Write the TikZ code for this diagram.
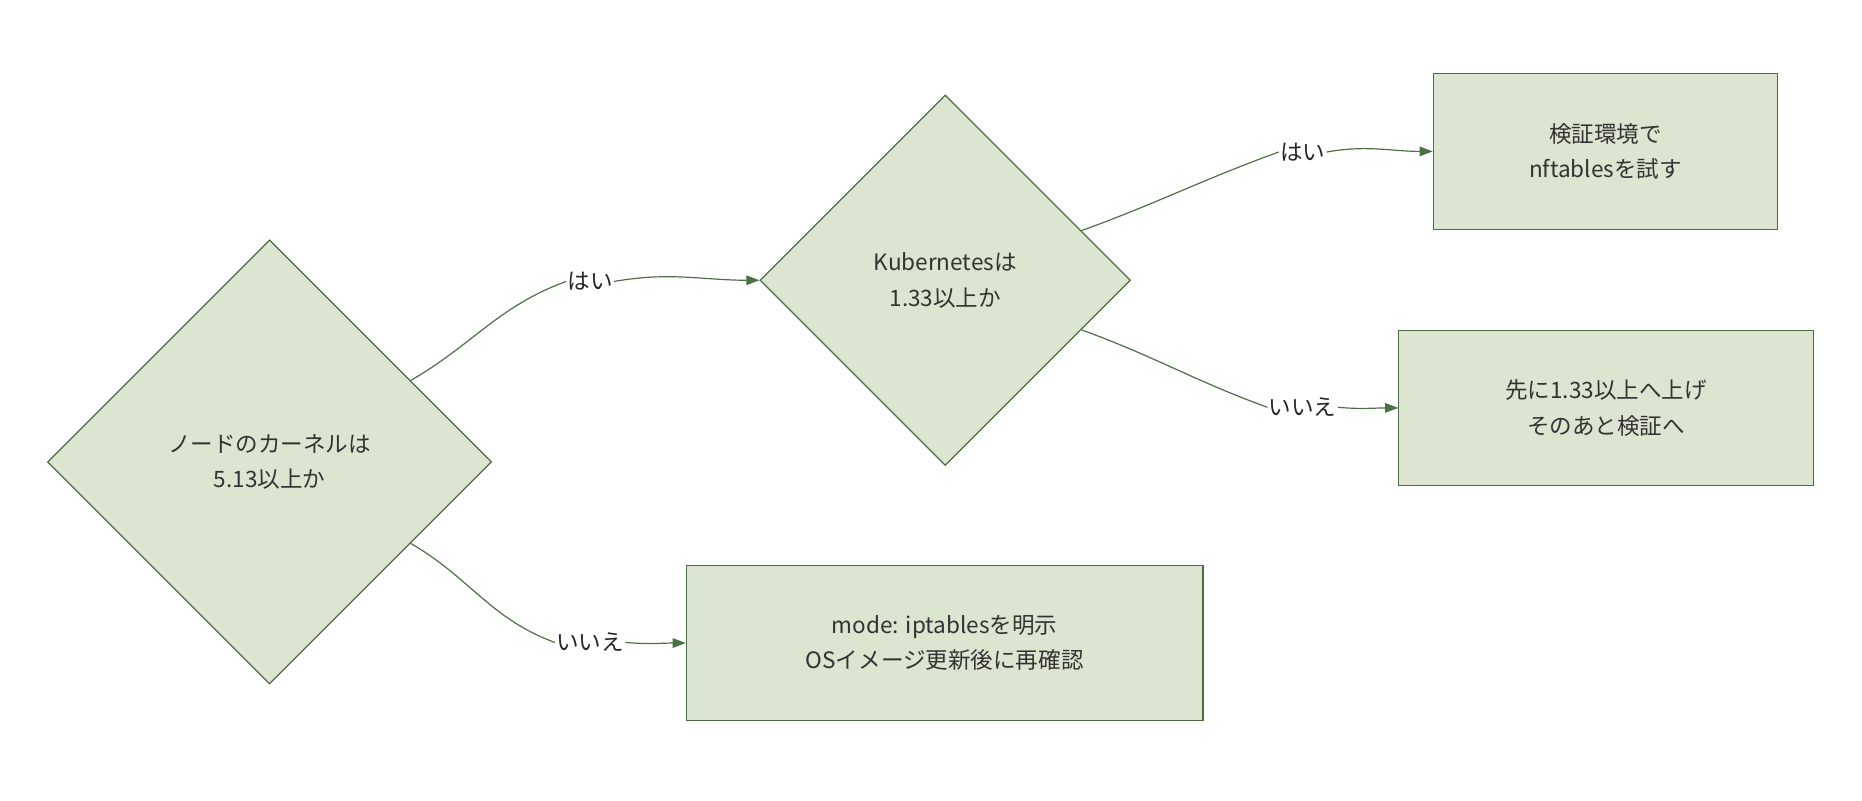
\documentclass[tikz,border=0pt]{standalone}
\usepackage{fontspec}
\setmainfont{Noto Sans CJK JP}
\usetikzlibrary{shapes.geometric,arrows.meta}
\definecolor{fillg}{HTML}{DCE5D0}
\definecolor{lineg}{HTML}{4E6B45}
\definecolor{arrg}{HTML}{4A7043}
\begin{document}
\begin{tikzpicture}[x=1pt,y=-1pt,
  dia/.style={diamond,draw=lineg,fill=fillg,line width=1pt,inner sep=0pt,align=center,font=\fontsize{19}{30}\selectfont,text=black!80},
  box/.style={rectangle,draw=lineg,fill=fillg,line width=1pt,align=center,font=\fontsize{19}{30}\selectfont,text=black!80},
  lab/.style={fill=white,inner sep=1pt,font=\fontsize{19}{22}\selectfont,text=black!85},
  con/.style={draw=arrg,line width=1pt},
  arr/.style={con,-{Triangle[length=11pt,width=8pt]}}]
\useasboundingbox (0,0) rectangle (1568,674);
\node[dia,minimum width=374,minimum height=374] (d1) at (227,389) {ノードのカーネルは\\5.13以上か};
\node[dia,minimum width=312,minimum height=312] (d2) at (796,236) {Kubernetesは\\1.33以上か};
\node[box,minimum width=290,minimum height=131] (b1) at (1352,127.5) {検証環境で\\nftablesを試す};
\node[box,minimum width=349,minimum height=131] (b2) at (1352.5,343.5) {先に1.33以上へ上げ\\そのあと検証へ};
\node[box,minimum width=435,minimum height=131] (b3) at (795.5,541.5) {mode: iptablesを明示\\OSイメージ更新後に再確認};
\node[lab] (l1) at (497,237) {はい};
\node[lab] (l2) at (497,541) {いいえ};
\node[lab] (l3) at (1097,128) {はい};
\node[lab] (l4) at (1097,343) {いいえ};
\draw[con] (d1.30) to[out=30,in=200] (l1.west);
\draw[arr] (l1.east) to[out=10,in=180] (d2.west);
\draw[con] (d1.-30) to[out=-30,in=160] (l2.west);
\draw[arr] (l2.east) to[out=-5,in=180] (b3.west);
\draw[con] (d2.20) to[out=20,in=200] (l3.west);
\draw[arr] (l3.east) to[out=10,in=180] (b1.west);
\draw[con] (d2.-20) to[out=-20,in=160] (l4.west);
\draw[arr] (l4.east) to[out=-5,in=180] (b2.west);
\end{tikzpicture}
\end{document}
